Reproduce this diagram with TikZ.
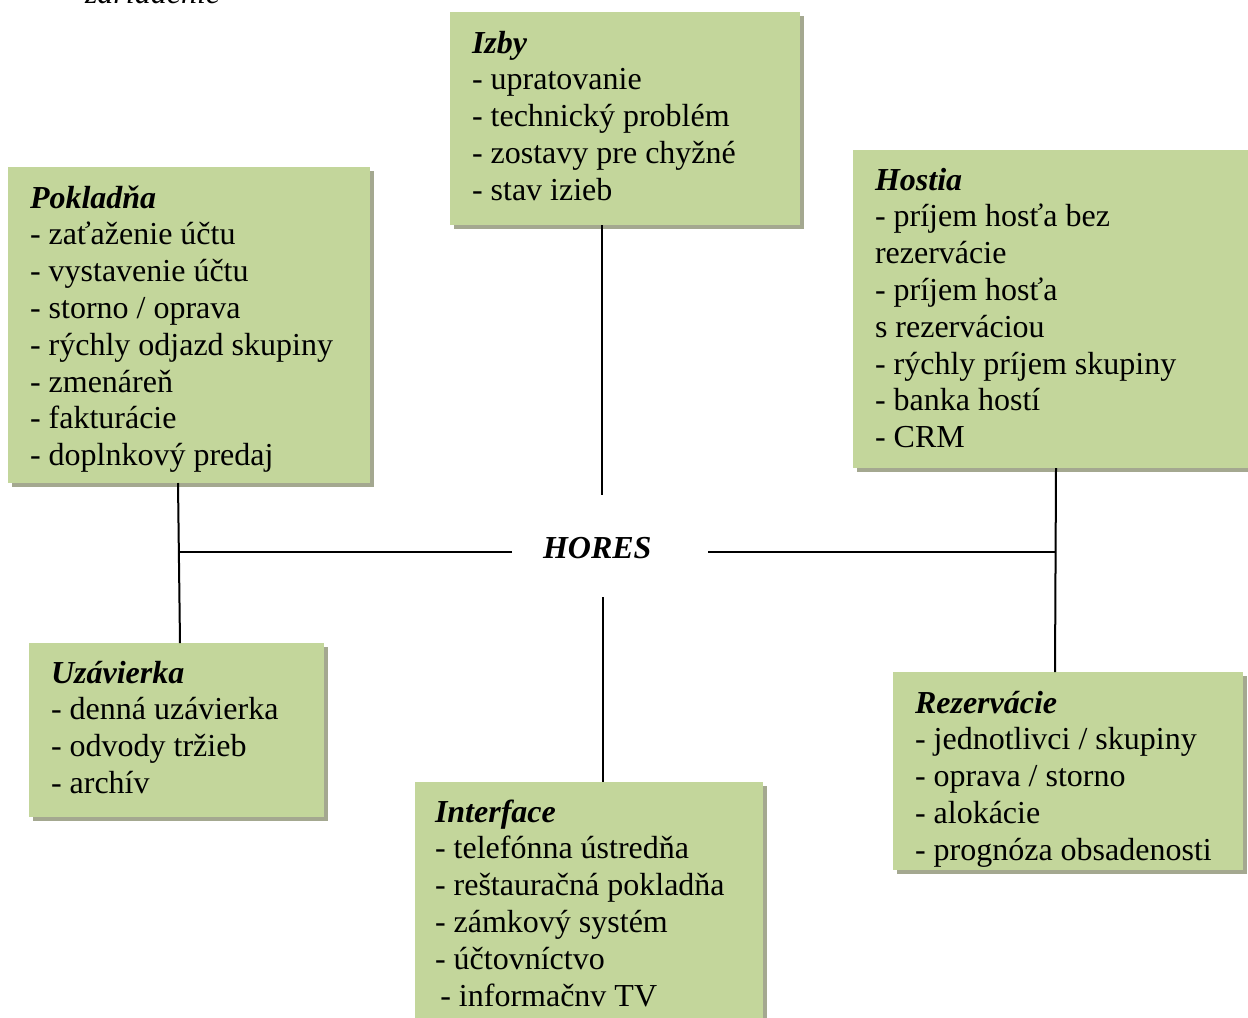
\documentclass[tikz,border=0pt]{standalone}
\usepackage{fontspec}
\setmainfont{Liberation Serif}
\usetikzlibrary{fit,shadows,calc}
\definecolor{boxgreen}{HTML}{C3D69B}
\definecolor{boxshadow}{RGB}{164,168,144}
\newcommand{\boxtext}[1]{\parbox[t]{150pt}{\fontsize{12}{13.8}\selectfont\raggedright #1}}
\newcommand{\hd}[1]{\textbf{\textit{#1}}}
\begin{document}
\begin{tikzpicture}[x=0.375pt,y=-0.375pt,
  box/.style={fill=boxgreen, inner sep=0pt, outer sep=0pt,
    drop shadow={shadow xshift=1.5pt, shadow yshift=-1.5pt, fill=boxshadow, opacity=1}},
  txt/.style={anchor=base west, inner sep=0pt, outer sep=0pt},
  link/.style={line width=0.75pt, black}]
\useasboundingbox (0,0) rectangle (1248,1017);

% cut-off text at top
\node[txt] (zar) at (85,4) {\fontsize{12}{13.8}\selectfont\textit{zariadenie}};

% boxes
\node[box, fit={(450,12)(800,225)}] (izby) {};
\node[box, fit={(853,150)(1262,468)}] (hostia) {};
\node[box, fit={(8,167)(370,483)}] (pokladna) {};
\node[box, fit={(29,643)(324,817)}] (uzavierka) {};
\node[box, fit={(415,782)(763,1035)}] (interface) {};
\node[box, fit={(893,672)(1243,870)}] (rezervacie) {};

% texts
\node[txt] (izbyt) at (472,53) {\boxtext{\hd{Izby}\\- upratovanie\\- technický problém\\- zostavy pre chyžné\\- stav izieb}};
\node[txt] (hostiat) at (875,190) {\boxtext{\hd{Hostia}\\- príjem hosťa bez\\rezervácie\\- príjem hosťa\\s rezerváciou\\- rýchly príjem skupiny\\- banka hostí\\- CRM}};
\node[txt] (pokladnat) at (30,208) {\boxtext{\hd{Pokladňa}\\- zaťaženie účtu\\- vystavenie účtu\\- storno / oprava\\- rýchly odjazd skupiny\\- zmenáreň\\- fakturácie\\- doplnkový predaj}};
\node[txt] (uzavierkat) at (51,683) {\boxtext{\hd{Uzávierka}\\- denná uzávierka\\- odvody tržieb\\- archív}};
\node[txt] (interfacet) at (435,822) {\boxtext{\hd{Interface}\\- telefónna ústredňa\\- reštauračná pokladňa\\- zámkový systém\\- účtovníctvo\\\hspace*{2pt}- informačnv TV}};
\node[txt] (rezervaciet) at (915,713) {\boxtext{\hd{Rezervácie}\\- jednotlivci / skupiny\\- oprava / storno\\- alokácie\\- prognóza obsadenosti}};

% centre
\node[txt] (hores) at (543,558) {\fontsize{12}{13.8}\selectfont\hd{HORES}};

% connector ends around centre
\coordinate (cT) at (602,495);
\coordinate (cB) at (603,597);
\coordinate (cL) at (512,552);
\coordinate (cR) at (708,552);
\coordinate (jl) at (179,552);
\coordinate (jr) at (1056,552);

% connectors
\draw[link] (izby.south -| cT) -- (cT);
\draw[link] (cB) -- (interface.north -| cB);
\draw[link] ($(pokladna.south west)+(170,0)$) -- ($(uzavierka.north west)+(151,0)$);
\draw[link] ($(hostia.south west)+(203,0)$) -- ($(rezervacie.north west)+(162,0)$);
\draw[link] (cL) -- (jl);
\draw[link] (cR) -- (jr);
\end{tikzpicture}
\end{document}
